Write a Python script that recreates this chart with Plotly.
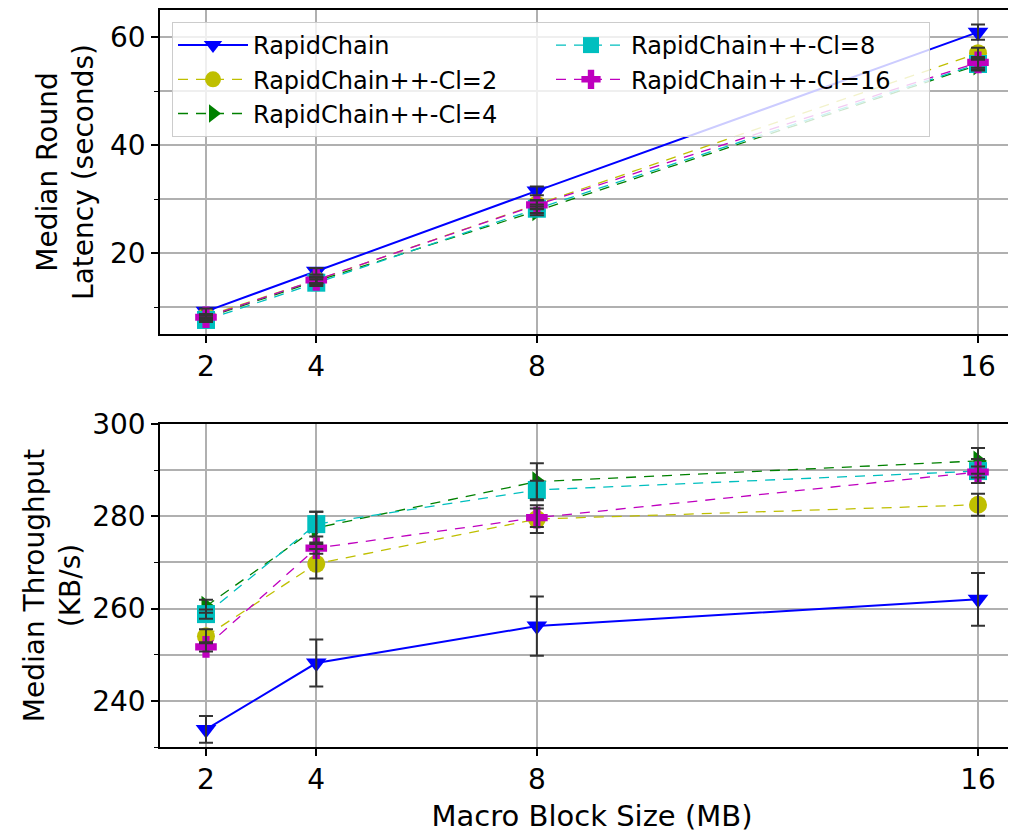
import plotly.graph_objects as go

block_sizes = [2, 4, 8, 16]
x_ticks = [2, 4, 8, 16]

series_names = ["RapidChain", "RapidChain++-Cl=2", "RapidChain++-Cl=4",
                "RapidChain++-Cl=8", "RapidChain++-Cl=16"]

# Top: median round latency (seconds)
lat_rc = [9.2, 16.6, 31.5, 60.9]
lat_cl2 = [8.3, 15.0, 29.0, 57.0]
lat_cl4 = [8.0, 14.8, 27.8, 54.8]
lat_cl8 = [7.6, 14.5, 28.2, 55.0]
lat_cl16 = [8.1, 15.0, 28.9, 55.3]
lat_err_rc = [0.5, 0.6, 0.8, 1.4]
lat_err_cl2 = [0.4, 0.6, 0.8, 1.0]
lat_err_cl4 = [0.4, 0.6, 0.8, 1.0]
lat_err_cl8 = [0.4, 0.6, 0.8, 1.0]
lat_err_cl16 = [0.4, 0.6, 0.8, 1.0]

# Bottom: median throughput (KB/s)
thr_rc = [233.8, 248.2, 256.2, 262.0]
thr_cl2 = [254.0, 269.7, 279.4, 282.5]
thr_cl4 = [260.5, 277.5, 287.5, 292.0]
thr_cl8 = [258.8, 278.3, 285.7, 289.8]
thr_cl16 = [251.7, 273.1, 279.7, 289.6]
thr_err_rc = [2.9, 5.1, 6.4, 5.7]
thr_err_cl2 = [1.5, 3.2, 3.0, 2.4]
thr_err_cl4 = [1.4, 3.5, 4.0, 2.8]
thr_err_cl8 = [1.0, 2.7, 2.0, 2.6]
thr_err_cl16 = [1.0, 1.2, 2.0, 1.2]

colors = ["#0000ff", "#bfbf00", "#008000", "#00bfbf", "#bf00bf"]
symbols = ["triangle-down", "circle", "triangle-right", "square", "cross"]
dashes = ["solid", "10px,8px", "10px,8px", "10px,8px", "10px,8px"]
widths = [2, 1.3, 1.3, 1.3, 1.3]
legend_rank = [1, 3, 5, 2, 4]

lat = [lat_rc, lat_cl2, lat_cl4, lat_cl8, lat_cl16]
lat_err = [lat_err_rc, lat_err_cl2, lat_err_cl4, lat_err_cl8, lat_err_cl16]
thr = [thr_rc, thr_cl2, thr_cl4, thr_cl8, thr_cl16]
thr_err = [thr_err_rc, thr_err_cl2, thr_err_cl4, thr_err_cl8, thr_err_cl16]

FONT = "DejaVu Sans"
TICK = 28
fig = go.Figure()

for i, name in enumerate(series_names):
    fig.add_trace(go.Scatter(
        x=block_sizes, y=lat[i], name=name, mode="lines+markers",
        line=dict(color=colors[i], width=widths[i], dash=dashes[i]),
        marker=dict(symbol=symbols[i], size=18, color=colors[i]),
        legendrank=legend_rank[i], xaxis="x", yaxis="y"))
for i, name in enumerate(series_names):
    fig.add_trace(go.Scatter(
        x=block_sizes, y=thr[i], name=name, mode="lines+markers",
        line=dict(color=colors[i], width=widths[i], dash=dashes[i]),
        marker=dict(symbol=symbols[i], size=18, color=colors[i]),
        showlegend=False, xaxis="x2", yaxis="y2"))

# error bars drawn on top
for i in range(5):
    fig.add_trace(go.Scatter(
        x=block_sizes, y=lat[i], mode="markers", showlegend=False,
        marker=dict(size=1, color="rgba(0,0,0,0)"),
        error_y=dict(type="data", array=lat_err[i], color="#333333",
                     thickness=2, width=7),
        hoverinfo="skip", xaxis="x", yaxis="y"))
    fig.add_trace(go.Scatter(
        x=block_sizes, y=thr[i], mode="markers", showlegend=False,
        marker=dict(size=1, color="rgba(0,0,0,0)"),
        error_y=dict(type="data", array=thr_err[i], color="#333333",
                     thickness=2, width=7),
        hoverinfo="skip", xaxis="x2", yaxis="y2"))

grid = "#b0b0b0"
xcommon = dict(range=[1.166, 16.834], tickvals=x_ticks, ticktext=[str(v) for v in x_ticks],
               showgrid=True, gridcolor=grid, gridwidth=1.5, zeroline=False,
               showline=True, linecolor="black", linewidth=1.5, mirror=True,
               ticks="outside", ticklen=7, tickwidth=1.5, tickcolor="black", automargin=False,
               tickfont=dict(family=FONT, size=TICK, color="black"))
ycommon = dict(showgrid=True, gridcolor=grid, gridwidth=1.5, zeroline=False,
               showline=True, linecolor="black", linewidth=1.5, mirror=False,
               ticks="outside", ticklen=7, tickwidth=1.5, tickcolor="black", automargin=False,
               tickfont=dict(family=FONT, size=TICK, color="black"),
               minor=dict(ticks="outside", ticklen=4, tickwidth=1.2, tickcolor="black",
                          showgrid=True, gridcolor=grid, gridwidth=1.5))

# page body has an 8px margin: plot area 160..1024 (clipped at 1016), 10..747
top_dom = [(739 - 326) / 737, 1.0]
bot_dom = [0.0, (739 - 416) / 737]

fig.update_layout(
    width=1016, height=834,
    margin=dict(l=152, r=0, t=2, b=95),
    paper_bgcolor="white", plot_bgcolor="white",
    font=dict(family=FONT, size=TICK, color="black"),
    xaxis=dict(**xcommon, domain=[0, 1], anchor="y"),
    yaxis=dict(**ycommon, domain=top_dom, anchor="x", range=[5, 65],
               tickvals=[20, 40, 60], minor_tickvals=[10, 30, 50],
               title=dict(text="Median Round<br>Latency (seconds)", standoff=8,
                          font=dict(family=FONT, size=TICK))),
    xaxis2=dict(**xcommon, domain=[0, 1], anchor="y2",
                title=dict(text="Macro Block Size (MB)", standoff=10,
                           font=dict(family=FONT, size=29))),
    yaxis2=dict(**ycommon, domain=bot_dom, anchor="x2", range=[230, 300],
                tickvals=[240, 260, 280, 300], minor_tickvals=[230, 250, 270, 290],
                title=dict(text="Median Throughput<br>(KB/s)", standoff=3,
                           font=dict(family=FONT, size=TICK))),
    legend=dict(orientation="h", x=(172 - 160) / 864, y=(739 - 14) / 737,
                xanchor="left", yanchor="top",
                entrywidth=293, itemwidth=70,
                bgcolor="rgba(255,255,255,0.8)", bordercolor="#cccccc", borderwidth=1,
                font=dict(family=FONT, size=24, color="black")),
)

fig.write_html("out.html")
